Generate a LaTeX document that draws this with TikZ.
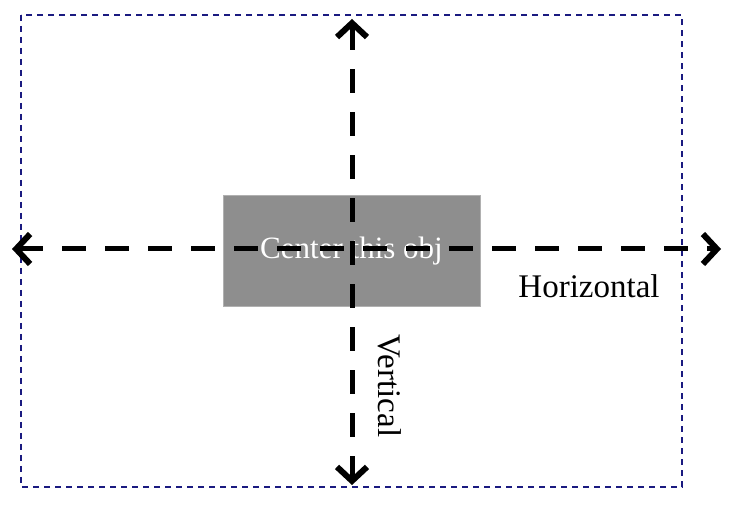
\documentclass[tikz,border=0pt]{standalone}
\usepackage{fontspec}
\setmainfont{Liberation Serif}
\usetikzlibrary{arrows.meta}
\definecolor{framenavy}{HTML}{1A1A80}
\definecolor{boxgray}{HTML}{8E8E8E}
\tikzset{
  frame/.style={draw=framenavy, line width=2pt, dash pattern=on 6pt off 5pt},
  objbox/.style={draw=boxgray!70!white, fill=boxgray, line width=0.8pt,
    minimum width=257pt, minimum height=111pt, inner sep=0pt,
    text=white, font=\fontsize{31}{31}\selectfont},
  axis/.style={line width=5pt, dash pattern=on 24pt off 19pt,
    {Straight Barb[length=14pt,width=30pt,line width=6pt]}-{Straight Barb[length=14pt,width=30pt,line width=6pt]}},
  lbl/.style={font=\fontsize{33}{33}\selectfont, inner sep=0pt}
}
\begin{document}
\begin{tikzpicture}
  \useasboundingbox (0pt,0pt) rectangle (730pt,516pt);

  \coordinate (fa) at (21pt,501pt);
  \coordinate (fb) at (682pt,29pt);
  \draw[frame] (fa) rectangle (fb);

  \node[objbox] (obj) at (351.5pt,265pt) {Center this obj};

  \coordinate (hl) at (12pt,267pt);
  \coordinate (hr) at (721pt,267pt);
  \coordinate (vt) at (352pt,497pt);
  \coordinate (vb) at (352pt,31pt);

  \draw[axis] (hl) -- (hr);
  \draw[axis] (vt) -- (vb);

  \node[lbl] (hlabel) at (589pt,230pt) {Horizontal};
  \node[lbl, rotate=-90] (vlabel) at (390pt,130pt) {Vertical};
\end{tikzpicture}
\end{document}
